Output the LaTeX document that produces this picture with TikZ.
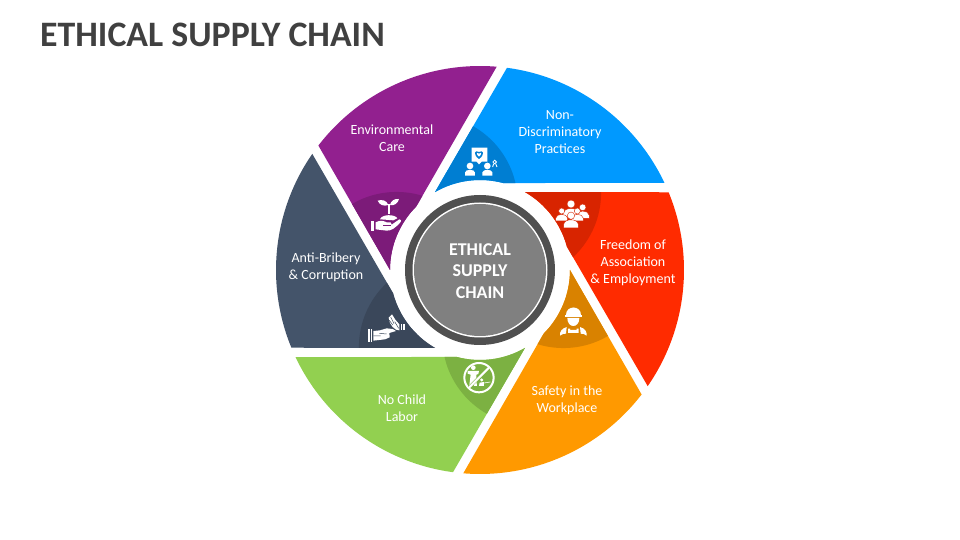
\documentclass[tikz,border=0pt]{standalone}
\usepackage{fontspec}
\setmainfont{Carlito}
\definecolor{bluemain}{HTML}{0099FF}
\definecolor{bluedark}{HTML}{007ED2}
\definecolor{redmain}{HTML}{FF2B00}
\definecolor{reddark}{HTML}{D82400}
\definecolor{orangemain}{HTML}{FF9900}
\definecolor{orangedark}{HTML}{D98200}
\definecolor{greenmain}{HTML}{92D050}
\definecolor{greendark}{HTML}{7CB142}
\definecolor{slatemain}{HTML}{44546A}
\definecolor{slatedark}{HTML}{3A475A}
\definecolor{purplemain}{HTML}{92208F}
\definecolor{purpledark}{HTML}{7C1B79}
\definecolor{titlegray}{HTML}{404040}
\definecolor{ringgray}{HTML}{505050}
\definecolor{hubgray}{HTML}{808080}
\newcommand{\bladeoutline}[1]{(#1+82.4:204) arc[start angle=#1+82.4,end angle=#1+25.3,radius=204]
  -- (#1+75:90) arc[start angle=#1+75,end angle=#1+120,radius=90] -- cycle}
\tikzset{
  bladetext/.style={text=white,align=center,font=\fontsize{14}{17}\selectfont},
  hubtext/.style={text=white,align=center,font=\fontsize{18}{21.5}\selectfont\bfseries},
  icon/.style={color=white,x=.3333pt,y=-.3333pt}
}
\begin{document}
\begin{tikzpicture}[x=1pt,y=1pt]
  \useasboundingbox (-480,-270) rectangle (480,270);
  \node[anchor=west,text=titlegray,font=\fontsize{35.8}{38}\selectfont\bfseries,inner sep=0pt] (title) at (-440,235.5) {ETHICAL SUPPLY CHAIN};
  % blades of the wheel
  \foreach \a/\bladecol/\darkcol in {0/bluemain/bluedark,-60/redmain/reddark,-120/orangemain/orangedark,
      -180/greenmain/greendark,-240/slatemain/slatedark,-300/purplemain/purpledark}{
    \fill[\bladecol] \bladeoutline{\a};
    \begin{scope}
      \clip \bladeoutline{\a};
      \fill[\darkcol] (\a+126.8:84) circle (88);
    \end{scope}
  }
  % hub
  \fill[ringgray] (0,0) circle (75);
  \fill[white] (0,0) circle (67.5);
  \fill[hubgray] (0,0) circle (66);
  \node[hubtext] (hub) at (0,-1) {ETHICAL\\SUPPLY\\CHAIN};
  % labels
  \node[bladetext] (nondisc) at (80,137.5) {Non-\\Discriminatory\\Practices};
  \node[bladetext] (freedom) at (153,7.5) {Freedom of\\Association\\\& Employment};
  \node[bladetext] (safety) at (87,-130.5) {Safety in the\\Workplace};
  \node[bladetext] (child) at (-78,-138.5) {No Child\\Labor};
  \node[bladetext] (bribery) at (-154,2.5) {Anti-Bribery\\\& Corruption};
  \node[bladetext] (environment) at (-88,131.5) {Environmental\\Care};
  % plant in hand
  \begin{scope}[shift={(-120,80)},icon]
    \fill (33,93) rectangle (42,122);
    \fill (47,97) .. controls (60,90) and (70,92) .. (80,97) -- (92,97) .. controls (96,100) .. (95,104)
      -- (118,88) .. controls (124,90) .. (122,96) .. controls (105,115) and (95,122) .. (80,122) -- (47,118) -- cycle;
    \draw[purpledark,line width=.7pt] (70,107) -- (92,107);
    \fill (85,45) .. controls (80,30) and (65,28) .. (53,32) .. controls (58,45) and (72,50) .. (85,45);
    \fill (90,45) .. controls (92,32) and (105,25) .. (117,27) .. controls (114,40) and (103,48) .. (90,45);
    \draw[line width=1.2pt] (87,42) -- (87,72);
    \fill (60,88) .. controls (65,72) and (105,72) .. (112,85) -- (100,91) -- (75,89) -- cycle;
  \end{scope}
  % board and two people
  \begin{scope}[shift={(-25,135)},icon]
    \fill (50,38) -- (97,38) -- (97,80) -- (80,80) -- (72,88) -- (65,80) -- (50,80) -- cycle;
    \fill[bluedark] (72,72) .. controls (52,58) and (60,43) .. (72,51) .. controls (84,43) and (92,58) .. (72,72);
    \fill (72,65) .. controls (62,57) and (65,50) .. (72,56) .. controls (79,50) and (82,57) .. (72,65);
    \foreach \x in {45,97}{
      \fill (\x,93) circle (10);
      \fill (\x-15,122) -- (\x-15,112) .. controls (\x-13,102) and (\x+13,102) .. (\x+15,112) -- (\x+15,122) -- cycle;
    }
    \draw[line width=.8pt] (119,81) circle (5.5);
    \draw[line width=.9pt] (116,86) -- (113,96) (122,86) -- (126,96);
  \end{scope}
  % group of people
  \begin{scope}[shift={(70,80)},icon]
    \foreach \x/\y/\r in {63/42/12,98/52/10,35/63/9,82/63/9,63/77/11}{
      \fill (\x,\y) circle (\r);
      \filldraw[draw=reddark,line width=.4pt] (\x-2*\r,\y+3.3*\r) -- (\x-2*\r,\y+2.4*\r) .. controls (\x-1.8*\r,\y+.7*\r) and (\x+1.8*\r,\y+.7*\r)
        .. (\x+2*\r,\y+2.4*\r) -- (\x+2*\r,\y+3.3*\r) -- cycle;
      \draw[reddark,line width=.4pt] (\x,\y) circle (\r);
    }
  \end{scope}
  % worker with helmet
  \begin{scope}[shift={(70,-28)},icon]
    \fill (48,50) .. controls (48,20) and (92,20) .. (92,50) -- cycle;
    \fill (45,52) rectangle (95,57);
    \fill (52,60) -- (88,60) .. controls (88,92) and (52,92) .. (52,60);
    \fill (30,113) .. controls (29,100) and (35,92) .. (50,87) -- (48,107) -- (39,108) -- cycle;
    \fill (110,113) .. controls (111,100) and (105,92) .. (90,87) -- (92,107) -- (101,108) -- cycle;
    \fill (54,92) -- (60,92) -- (60,96) -- (80,96) -- (80,92) -- (86,92) -- (86,105) -- (54,105) -- cycle;
  \end{scope}
  % no child labor sign
  \begin{scope}[shift={(-25,-82)},icon]
    \draw[line width=2pt] (72,77) circle (44);
    \fill (55,47) circle (7);
    \fill (38,57) -- (72,57) -- (70,66) -- (64,68) -- (64,85) -- (66,102) -- (57,102) -- (55,87) -- (50,102) -- (43,100) -- (47,68) -- (38,65) -- cycle;
    \fill (80,84) circle (5);
    \fill (74,92) -- (87,90) -- (87,102) -- (72,102) -- cycle;
    \draw[line width=.6pt] (87,93) -- (106,90);
    \draw[greendark,line width=3pt] (102,48) -- (42,106);
    \draw[line width=2pt] (103,46) -- (41,108);
  \end{scope}
  % two hands
  \begin{scope}[shift={(-120,-35)},icon]
    \fill (25,73) rectangle (36,110);
    \draw[slatedark,line width=.4pt] (30,73) -- (30,110);
    \fill (40,78) -- (60,76) -- (80,70) -- (98,72) -- (108,78) -- (88,84) -- (89,97) -- (75,103) -- (40,107) -- cycle;
    \draw[slatedark,line width=.5pt] (58,85) -- (80,87) (40,93) -- (62,93);
    \fill (122,56) rectangle (135,76);
    \draw[slatedark,line width=.4pt] (128,56) -- (128,76);
    \fill (118,58) -- (106,44) -- (96,28) -- (86,38) -- (90,54) -- (98,66) -- (108,74) -- (118,76) -- cycle;
    \draw[slatedark,line width=.5pt] (92,36) -- (102,56) (88,46) -- (98,60) (104,50) -- (116,70);
  \end{scope}
\end{tikzpicture}
\end{document}
